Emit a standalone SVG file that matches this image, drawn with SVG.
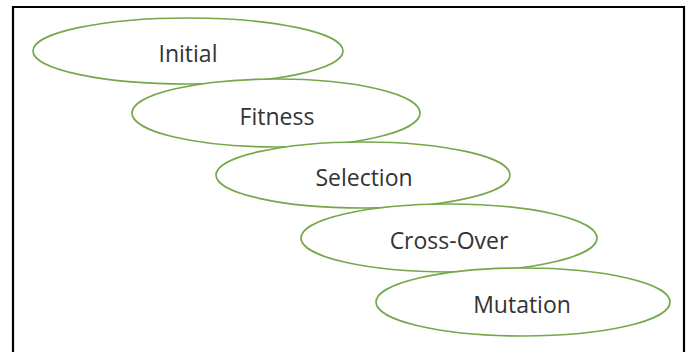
<svg xmlns="http://www.w3.org/2000/svg" width="691" height="352" viewBox="0 0 691 352">
<style>
.n ellipse{fill:#ffffff;stroke:#74a84a;stroke-width:1.7}
.n text{font-family:"Open Sans","Liberation Sans",sans-serif;font-size:23px;fill:#333333;text-anchor:middle}
</style>
<rect x="0" y="0" width="691" height="352" fill="#ffffff"/>
<path d="M13,352 V7 H684 V352" fill="none" stroke="#000000" stroke-width="2.2"/>
<g id="connectors"></g>
<g id="initial" class="n"><ellipse cx="188" cy="51" rx="155" ry="33"/><text x="188" y="62">Initial</text></g>
<g id="fitness" class="n"><ellipse cx="276" cy="113" rx="144" ry="34"/><text x="277" y="125">Fitness</text></g>
<g id="selection" class="n"><ellipse cx="363" cy="175" rx="147" ry="33"/><text x="364" y="186">Selection</text></g>
<g id="crossover" class="n"><ellipse cx="449" cy="238" rx="148" ry="34"/><text x="449" y="249">Cross-Over</text></g>
<g id="mutation" class="n"><ellipse cx="523" cy="302" rx="147" ry="34"/><text x="522" y="313">Mutation</text></g>
</svg>
